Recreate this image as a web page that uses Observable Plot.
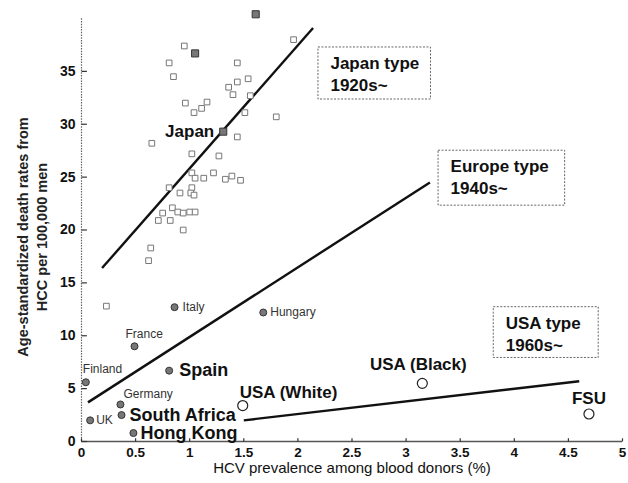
<!DOCTYPE html>
<html><head><meta charset="utf-8">
<script src="https://cdn.jsdelivr.net/npm/d3@7"></script>
<script src="https://cdn.jsdelivr.net/npm/@observablehq/plot@0.6"></script>
<style>body{margin:0;background:#fff}</style>
</head><body><div id="chart"></div>
<script>
// ---- data ----
const xTicks = [0, 0.5, 1, 1.5, 2, 2.5, 3, 3.5, 4, 4.5, 5];
const yTicks = [0, 5, 10, 15, 20, 25, 30, 35];
const xTitle = "HCV prevalence among blood donors (%)";
const yTitle1 = "Age-standardized death rates from";
const yTitle2 = "HCC per 100,000 men";

// Japanese prefectures (open squares)
const prefX = [0.95,0.81,0.85,1.44,1.44,1.54,1.36,1.40,1.56,0.96,1.04,1.11,1.16,1.51,1.80,1.96,1.44,0.65,1.02,1.27,1.02,1.05,1.13,1.22,1.33,1.39,1.47,0.81,0.91,1.02,1.01,1.04,0.84,0.89,0.94,1.00,1.05,0.75,0.71,0.82,0.94,0.64,0.62,0.23];
const prefY = [37.4,35.8,34.5,35.8,34.0,34.3,33.5,32.8,32.7,32.0,31.1,31.5,32.1,31.1,30.7,38.0,28.8,28.2,27.2,27.0,25.4,24.9,24.9,25.4,24.8,25.1,24.7,24.0,23.5,24.0,23.5,23.3,22.1,21.7,21.6,21.7,21.7,21.6,20.9,20.9,20.0,18.3,17.1,12.8];
// highlighted prefectures (filled squares) and Japan overall
const hiX = [1.61, 1.05];
const hiY = [40.4, 36.7];
const japanX = [1.31];
const japanY = [29.3];
const japanName = ["Japan"];

// other countries (filled circles)
const countryNames = ["Italy","Hungary","France","Finland","Spain","Germany","UK","South Africa","Hong Kong"];
const countryX = [0.86, 1.68, 0.49, 0.04, 0.81, 0.36, 0.08, 0.37, 0.48];
const countryY = [12.7, 12.2, 9.0, 5.6, 6.7, 3.5, 2.0, 2.5, 0.8];

// USA-type (open circles)
const usaNames = ["USA (White)", "USA (Black)", "FSU"];
const usaX = [1.49, 3.15, 4.69];
const usaY = [3.4, 5.5, 2.6];

// trend lines
const typeNames = ["Japan type", "Europe type", "USA type"];
const typeEras = ["1920s~", "1940s~", "1960s~"];
const lineX1 = [0.19, 0.06, 1.50];
const lineY1 = [16.4, 3.7, 2.0];
const lineX2 = [2.14, 3.22, 4.60];
const lineY2 = [39.1, 24.5, 5.7];

// annotation boxes (data units)
const boxX1 = [2.19, 3.30, 3.81];
const boxX2 = [3.23, 4.47, 4.78];
const boxY1 = [37.26, 27.5, 12.7];
const boxY2 = [32.34, 22.3, 7.9];

// ---- build tables ----
const prefs = prefX.map((x, i) => ({x, y: prefY[i]}));
const his = hiX.map((x, i) => ({x, y: hiY[i]}));
const japan = japanX.map((x, i) => ({name: japanName[i], x, y: japanY[i]}));
const countries = countryNames.map((name, i) => ({name, x: countryX[i], y: countryY[i]}));
const usa = usaNames.map((name, i) => ({name, x: usaX[i], y: usaY[i]}));
const lines = typeNames.map((name, i) => ({name, x1: lineX1[i], y1: lineY1[i], x2: lineX2[i], y2: lineY2[i]}));
const boxes = typeNames.map((name, i) => ({name, era: typeEras[i], x1: boxX1[i], x2: boxX2[i], y1: boxY1[i], y2: boxY2[i]}));

// label styles
const small = {"Italy": [8, 0, "start"], "Hungary": [7, 0, "start"], "France": [-9, -12, "start"], "Finland": [-3, -13, "start"], "Germany": [3, -10, "start"], "UK": [6, 0, "start"]};
const big = {"Spain": [10, 0, "start"], "South Africa": [8, 0, "start"], "Hong Kong": [7, 0, "start"]};
const usaLab = {"USA (White)": [-3, -13, "start"], "USA (Black)": [-4, -19, "middle"], "FSU": [0, -15, "middle"]};

const font = "'Liberation Sans', Arial, Helvetica, sans-serif";

function labelMarks(data, styles, fontSize, fontWeight, fill) {
  return Object.entries(styles).map(([name, [dx, dy, anchor]]) =>
    Plot.text(data.filter(d => d.name === name), {x: "x", y: "y", text: "name", dx, dy, textAnchor: anchor, fontSize, fontWeight, fill, lineAnchor: "middle"}));
}

const chart = Plot.plot({
  width: 628, height: 483,
  marginLeft: 81, marginRight: 6, marginTop: 18, marginBottom: 42,
  x: {domain: [0, 5]},
  y: {domain: [0, 40]},
  style: {fontFamily: font, background: "white", overflow: "visible"},
  marks: [
    // axes lines
    Plot.ruleX([0], {y1: 0, y2: 40, stroke: "#666", strokeDasharray: "1.5,1.2", strokeWidth: 1.2}),
    Plot.ruleY([0], {x1: 0, x2: 5, stroke: "#555", strokeWidth: 1.3}),
    // inward ticks
    Plot.link(xTicks, {x1: d => d, x2: d => d, y1: 0, y2: 0.3, stroke: "#333", strokeWidth: 1.2}),
    Plot.link(yTicks, {y1: d => d, y2: d => d, x1: 0, x2: 0.05, stroke: "#333", strokeWidth: 1.2}),
    Plot.axisX({ticks: xTicks, tickSize: 0, tickPadding: 6, fontSize: 13.5, fontWeight: "bold", fill: "#111", label: null, tickFormat: d => String(d)}),
    Plot.axisY({ticks: yTicks, tickSize: 0, tickPadding: 6, fontSize: 14, fontWeight: "bold", fill: "#111", label: null, tickFormat: d => String(d)}),
    // axis titles
    Plot.text([xTitle], {frameAnchor: "bottom", dy: 27, fontSize: 15, fill: "#111", textAnchor: "middle", lineAnchor: "middle"}),
    Plot.text([yTitle1], {frameAnchor: "left", dx: -58, dy: 7, rotate: -90, textAnchor: "middle", fontSize: 14.5, fontWeight: "bold", fill: "#222", lineAnchor: "middle"}),
    Plot.text([yTitle2], {frameAnchor: "left", dx: -39, dy: 7, rotate: -90, textAnchor: "middle", fontSize: 14.5, fontWeight: "bold", fill: "#222", lineAnchor: "middle"}),
    // trend lines
    Plot.link(lines, {x1: "x1", y1: "y1", x2: "x2", y2: "y2", stroke: "#111", strokeWidth: 2.4}),
    // boxes
    Plot.rect(boxes, {x1: "x1", x2: "x2", y1: "y1", y2: "y2", fill: "white", stroke: "#666", strokeDasharray: "2,1.5", strokeWidth: 1}),
    Plot.text(boxes, {x: "x1", y: "y1", text: "name", dx: 12, dy: 16, textAnchor: "start", lineAnchor: "middle", fontSize: 17, fontWeight: "bold", fill: "#111"}),
    Plot.text(boxes, {x: "x1", y: "y1", text: "era", dx: 12, dy: 38, textAnchor: "start", lineAnchor: "middle", fontSize: 17, fontWeight: "bold", fill: "#111"}),
    // points
    Plot.dot(prefs, {x: "x", y: "y", symbol: "square", r: 3.2, stroke: "#777", strokeWidth: 1, fill: "white"}),
    Plot.dot(his, {x: "x", y: "y", symbol: "square", r: 4, stroke: "#333", strokeWidth: 1, fill: "#777"}),
    Plot.dot(japan, {x: "x", y: "y", symbol: "square", r: 4, stroke: "#333", strokeWidth: 1, fill: "#777"}),
    Plot.dot(countries, {x: "x", y: "y", r: 3.5, stroke: "#333", strokeWidth: 1, fill: "#777"}),
    Plot.dot(usa, {x: "x", y: "y", r: 5, stroke: "#222", strokeWidth: 1.2, fill: "white"}),
    // labels
    Plot.text(japan, {x: "x", y: "y", text: "name", dx: -9, dy: 0, textAnchor: "end", lineAnchor: "middle", fontSize: 17, fontWeight: "bold", fill: "#111"}),
    ...labelMarks(countries, small, 12, "normal", "#333"),
    ...labelMarks(countries, big, 18, "bold", "#111"),
    ...labelMarks(usa, usaLab, 17, "bold", "#111")
  ]
});
document.getElementById("chart").appendChild(chart);
</script>
</body></html>
